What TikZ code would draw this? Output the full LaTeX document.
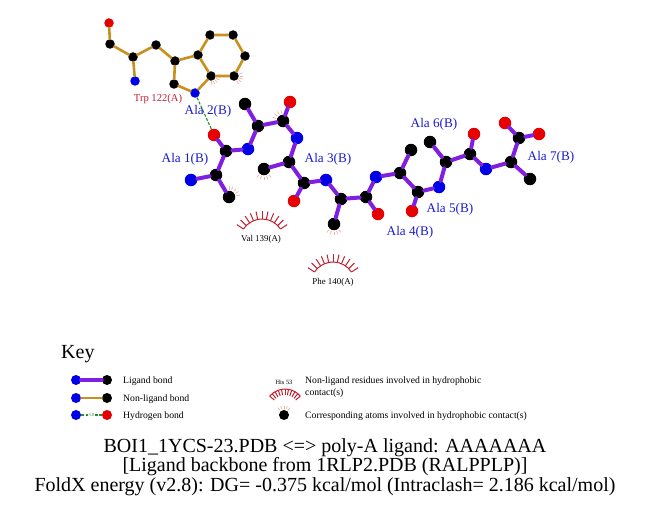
\documentclass[tikz,border=0pt]{standalone}
\usepackage{fontspec}
\setmainfont{Liberation Serif}
\definecolor{ligbond}{HTML}{7F1FE0}
\definecolor{nonlig}{HTML}{C8901F}
\definecolor{hbgreen}{HTML}{2E8B2E}
\definecolor{atomblue}{HTML}{0000E6}
\definecolor{atomred}{HTML}{E60000}
\definecolor{arcred}{HTML}{C02030}
\definecolor{labblue}{HTML}{1A1AD0}
\definecolor{tickc}{HTML}{E8B0A8}
\tikzset{
  px/.style={x=1pt,y=-1pt},
  lc/.style={circle,fill=black,draw=none,minimum size=12.5pt,inner sep=0pt},
  ln/.style={lc,fill=atomblue},
  lo/.style={lc,fill=atomred},
  pc/.style={lc,minimum size=9.5pt},
  pn/.style={pc,fill=atomblue},
  po/.style={pc,fill=atomred},
  kc/.style={lc,minimum size=10pt},
  ligb/.style={draw=ligbond,line width=4pt,line cap=round},
  nonb/.style={draw=nonlig,line width=2.6pt,line cap=round},
  hb/.style={draw=hbgreen,line width=1.1pt,dash pattern=on 3pt off 1.5pt},
  reslab/.style={text=labblue,font=\fontsize{13.2}{15}\selectfont,inner sep=0pt,yshift=-1pt},
  smlab/.style={text=black,font=\fontsize{8.9}{10}\selectfont,inner sep=0pt},
  keylab/.style={text=black,font=\fontsize{9.7}{12}\selectfont,inner sep=0pt,anchor=west,yshift=-.8pt},
  titlab/.style={text=black,font=\fontsize{20}{22}\selectfont,inner sep=0pt,yshift=-1pt},
  arcline/.style={draw=arcred,line width=1pt},
  tick/.style={draw=tickc,line width=.7pt},
}
\newcommand{\resarc}[4]{% x, y(centre), radius, spoke length
  \begin{scope}[shift={(#1,#2)},x=1pt,y=1pt]
    \draw[arcline] (147:#3) arc (147:33:#3);
    \foreach \a in {33,44.4,...,147.1}
      \draw[arcline] (\a:#3) -- (\a:#3+#4);
  \end{scope}}
\newcommand{\hticks}[4]{% x, y, central angle, inner radius
  \begin{scope}[shift={(#1,#2)},x=1pt,y=1pt]
    \foreach \a in {-40,-20,0,20,40}
      \draw[tick] (#3+\a:#4) -- (#3+\a:#4+3.5);
  \end{scope}}
\begin{document}
\begin{tikzpicture}[px]
\useasboundingbox (0,0) rectangle (651,511);
% hydrophobic ticks
\hticks{229}{197}{50}{7.5}
\hticks{264}{169}{270}{7.5}
\hticks{334}{224}{270}{7.5}
\hticks{283}{121}{120}{7.5}
\hticks{211}{76}{315}{5.5}
\hticks{234}{76}{340}{5.5}
\hticks{284}{415}{90}{6}
% residue arcs
\resarc{262}{241}{22}{8}
\resarc{333}{284}{22}{8}
% Trp atoms
\node[po] (tO) at (109,23) {};
\node[pc] (tC) at (110,44) {};
\node[pc] (tCA) at (133,57) {};
\node[pn] (tN) at (135,81) {};
\node[pc] (tCB) at (156,45) {};
\node[pc] (tCG) at (175,61) {};
\node[pc] (tCD1) at (174,84) {};
\node[pn] (tNE) at (195,93) {};
\node[pc] (tCE2) at (211,76) {};
\node[pc] (tCD2) at (198,55) {};
\node[pc] (tCE3) at (210,35) {};
\node[pc] (tCZ3) at (233,35) {};
\node[pc] (tCH2) at (245,56) {};
\node[pc] (tCZ2) at (234,76) {};
\draw[nonb] (tO)--(tC) (tC)--(tCA) (tCA)--(tN) (tCA)--(tCB) (tCB)--(tCG) (tCG)--(tCD1)
  (tCD1)--(tNE) (tNE)--(tCE2) (tCE2)--(tCD2) (tCD2)--(tCG) (tCD2)--(tCE3) (tCE3)--(tCZ3)
  (tCZ3)--(tCH2) (tCH2)--(tCZ2) (tCZ2)--(tCE2);
% ligand atoms
\node[ln] (n1) at (191,180) {};
\node[lc] (a1) at (216,175) {};
\node[lc] (b1) at (229,197) {};
\node[lc] (c1) at (226,151) {};
\node[lo] (o1) at (214,135) {};
\node[ln] (n2) at (248,149) {};
\node[lc] (a2) at (258,126) {};
\node[lc] (b2) at (245,104) {};
\node[lc] (c2) at (283,121) {};
\node[lo] (o2) at (290,102) {};
\node[ln] (n3) at (297,138) {};
\node[lc] (a3) at (289,162) {};
\node[lc] (b3) at (264,169) {};
\node[lc] (c3) at (304,183) {};
\node[lo] (o3) at (294,201) {};
\node[ln] (n4) at (326,180) {};
\node[lc] (a4) at (341,199) {};
\node[lc] (b4) at (334,224) {};
\node[lc] (c4) at (366,197) {};
\node[lo] (o4) at (378,214) {};
\node[ln] (n5) at (376,177) {};
\node[lc] (a5) at (400,173) {};
\node[lc] (b5) at (411,150) {};
\node[lc] (c5) at (418,192) {};
\node[lo] (o5) at (412,211) {};
\node[ln] (n6) at (439,187) {};
\node[lc] (a6) at (446,162) {};
\node[lc] (b6) at (430,142) {};
\node[lc] (c6) at (470,154) {};
\node[lo] (o6) at (474,134) {};
\node[ln] (n7) at (486,169) {};
\node[lc] (a7) at (511,162) {};
\node[lc] (b7) at (530,179) {};
\node[lc] (c7) at (519,138) {};
\node[lo] (o7) at (505,123) {};
\node[lo] (ox) at (539,134) {};
\draw[ligb] (n1)--(a1) (a1)--(b1) (a1)--(c1) (c1)--(o1) (c1)--(n2) (n2)--(a2) (a2)--(b2)
  (a2)--(c2) (c2)--(o2) (c2)--(n3) (n3)--(a3) (a3)--(b3) (a3)--(c3) (c3)--(o3) (c3)--(n4)
  (n4)--(a4) (a4)--(b4) (a4)--(c4) (c4)--(o4) (c4)--(n5) (n5)--(a5) (a5)--(b5) (a5)--(c5)
  (c5)--(o5) (c5)--(n6) (n6)--(a6) (a6)--(b6) (a6)--(c6) (c6)--(o6) (c6)--(n7) (n7)--(a7)
  (a7)--(b7) (a7)--(c7) (c7)--(o7) (c7)--(ox);
\draw[hb] (tNE)--(o1);
% labels
\node[reslab] (l1) at (185,158) {Ala 1(B)};
\node[reslab] (l2) at (208,110) {Ala 2(B)};
\node[reslab] (l3) at (328,158) {Ala 3(B)};
\node[reslab] (l4) at (410,231) {Ala 4(B)};
\node[reslab] (l5) at (450,208) {Ala 5(B)};
\node[reslab] (l6) at (434,123) {Ala 6(B)};
\node[reslab] (l7) at (551,156) {Ala 7(B)};
\node[smlab,text=arcred,font=\fontsize{10.6}{12}\selectfont] (lt) at (158,99) {Trp 122(A)};
\node[smlab] (lv) at (261,239) {Val 139(A)};
\node[smlab] (lp) at (333,282) {Phe 140(A)};
% key
\node[titlab,anchor=west] (key) at (61,353) {Key};
\node[kc,fill=atomblue] (k1a) at (76,380) {};
\node[kc] (k1b) at (107,380) {};
\draw[ligb] (k1a)--(k1b);
\node[kc,fill=atomblue] (k2a) at (76,398) {};
\node[kc] (k2b) at (107,398) {};
\draw[nonb] (k2a)--(k2b);
\node[kc,fill=atomblue] (k3a) at (76,415) {};
\node[kc,fill=atomred] (k3b) at (107,415) {};
\draw[hb] (k3a)--(k3b);
\node[fill=white,inner sep=.5pt,text=hbgreen,font=\fontsize{4.5}{5}\selectfont] (k3t) at (91.5,415) {3.0};
\node[keylab] (kt1) at (123,380) {Ligand bond};
\node[keylab] (kt2) at (123,398) {Non-ligand bond};
\node[keylab] (kt3) at (123,415) {Hydrogen bond};
\node[smlab,font=\fontsize{6.4}{7}\selectfont] (khis) at (284,382) {His 53};
\begin{scope}[shift={(285,409)},x=1pt,y=1pt]
  \draw[arcline] (140:20) arc (140:40:20);
  \foreach \a in {40,50,...,140}
    \draw[arcline] (\a:20) -- (\a:14);
\end{scope}
\node[keylab,align=left,anchor=north west] (kt4) at (305,376) {Non-ligand residues involved in hydrophobic\\contact(s)};
\node[kc] (kat) at (284,415) {};
\node[keylab] (kt5) at (305,415) {Corresponding atoms involved in hydrophobic contact(s)};
% titles
\node[titlab] (t1) at (325,447) {BOI1\_1YCS-23.PDB <=> poly-A ligand: AAAAAAA};
\node[titlab] (t2) at (325,466) {[Ligand backbone from 1RLP2.PDB (RALPPLP)]};
\node[titlab] (t3) at (325,486) {FoldX energy (v2.8): DG= -0.375 kcal/mol (Intraclash= 2.186 kcal/mol)};
\end{tikzpicture}
\end{document}
